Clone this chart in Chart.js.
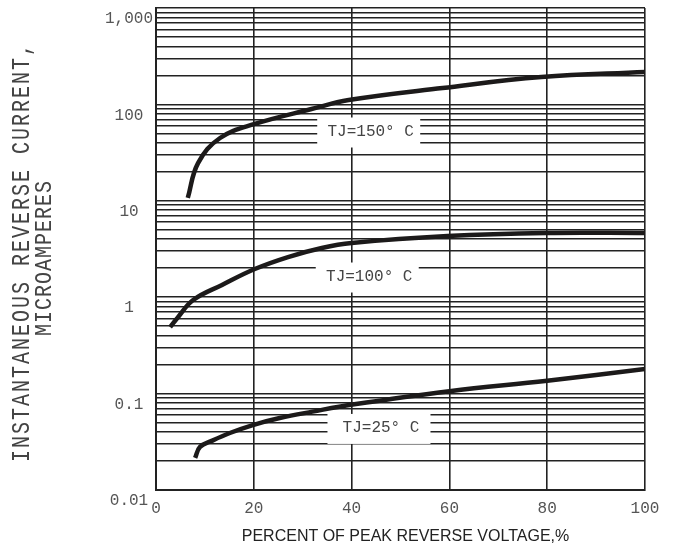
<!DOCTYPE html>
<html>
<head>
<meta charset="utf-8">
<script src="https://cdn.jsdelivr.net/npm/chart.js@4"></script>
<style>
html,body{margin:0;padding:0;background:#fff;}
#wrap{width:679px;height:550px;}
</style>
</head>
<body>
<div id="wrap"><canvas id="c" width="679" height="550"></canvas></div>
<script>
// ---- data ----
const xTicks = [0, 20, 40, 60, 80, 100];
const yTickValues = [0.01, 0.1, 1, 10, 100, 1000];
const yTickLabels = ["0.01", "0.1", "1", "10", "100", "1,000"];

const x150 = [6.5, 8.6, 13.1, 20.2, 31.8, 39.4, 58.6, 78.8, 100];
const y150 = [10.7, 24.6, 44.8, 62.7, 89.5, 111, 148, 192, 217];

const x100 = [2.9, 4.5, 7.6, 13.5, 20.2, 27.0, 33.9, 40, 59.6, 79.8, 100];
const y100 = [0.49, 0.62, 0.935, 1.34, 1.96, 2.61, 3.24, 3.65, 4.31, 4.64, 4.64];

const x25 = [8.0, 9.0, 11.5, 15.1, 19.8, 25.3, 32.0, 40.2, 60, 80, 100];
const y25 = [0.0215, 0.028, 0.0325, 0.039, 0.0472, 0.0558, 0.065, 0.077, 0.106, 0.136, 0.18];

const labelTexts = ["TJ=150\u00B0 C", "TJ=100\u00B0 C", "TJ=25\u00B0 C"];
const labelX = [43.5, 43.2, 45.6];
const labelY = [51.1, 1.60, 0.043];

const xTitle = "PERCENT OF PEAK REVERSE VOLTAGE,%";
const yTitle1 = "INSTANTANEOUS REVERSE CURRENT,";
const yTitle2 = "MICROAMPERES";

// ---- helpers ----
function pts(xs, ys) { return xs.map((x, i) => ({ x: x, y: ys[i] })); }
function lineDs(xs, ys) {
  return {
    data: pts(xs, ys),
    borderColor: '#1c1a1a',
    borderWidth: 4.5,
    pointRadius: 0,
    fill: false,
    tension: 0.4,
    borderCapStyle: 'butt'
  };
}

const labelsPlugin = {
  id: 'tjLabels',
  beforeDatasetsDraw(chart) {
    const ctx = chart.ctx;
    const xs = chart.scales.x, ys = chart.scales.y;
    ctx.save();
    ctx.font = '16px "Liberation Mono"';
    ctx.textAlign = 'center';
    ctx.textBaseline = 'middle';
    labelTexts.forEach((t, i) => {
      const px = xs.getPixelForValue(labelX[i]);
      const py = ys.getPixelForValue(labelY[i]);
      const w = 103, h = 30;
      ctx.fillStyle = '#fff';
      ctx.fillRect(px - w / 2, py - h / 2, w, h);
      ctx.fillStyle = '#444';
      ctx.fillText(t, px + 2, py - 1);
    });
    ctx.restore();
  }
};

const titlesPlugin = {
  id: 'titles',
  afterDraw(chart) {
    const ctx = chart.ctx;
    const a = chart.chartArea;
    ctx.save();
    // x title
    ctx.fillStyle = '#222';
    ctx.font = '16px "Liberation Sans"';
    ctx.textAlign = 'center';
    ctx.textBaseline = 'middle';
    ctx.fillText(xTitle, (a.left + a.right) / 2 + 5, a.bottom + 47);
    // y title
    const cy = (a.top + a.bottom) / 2;
    ctx.fillStyle = '#444';
    ctx.font = '20px "Liberation Mono"';
    ctx.save();
    ctx.translate(22, cy + 3);
    ctx.rotate(-Math.PI / 2);
    ctx.scale(1, 1.3);
    ctx.letterSpacing = '2px';
    ctx.fillText(yTitle1, 0, 0);
    ctx.restore();
    ctx.save();
    ctx.translate(45, cy + 9);
    ctx.rotate(-Math.PI / 2);
    ctx.scale(1, 1.15);
    ctx.letterSpacing = '1px';
    ctx.fillText(yTitle2, 0, 0);
    ctx.restore();
    ctx.restore();
  }
};

new Chart(document.getElementById('c'), {
  type: 'line',
  data: {
    datasets: [lineDs(x150, y150), lineDs(x100, y100), lineDs(x25, y25)]
  },
  options: {
    responsive: false,
    animation: false,
    devicePixelRatio: 1,
    layout: { padding: { top: 8, right: 34, left: 0, bottom: 0 } },
    plugins: { legend: { display: false }, tooltip: { enabled: false } },
    scales: {
      x: {
        type: 'linear',
        min: 0, max: 100,
        afterBuildTicks(scale) { scale.ticks = xTicks.map(v => ({ value: v })); },
        afterFit(scale) { scale.height = 60; scale.paddingLeft = 0; scale.paddingRight = 0; },
        grid: { color: '#222', lineWidth: 1.6, drawTicks: false },
        border: { color: '#222', width: 2 },
        ticks: {
          font: { family: 'Liberation Mono', size: 16 },
          color: '#555',
          padding: 9,
          autoSkip: false,
          maxRotation: 0,
          callback: v => String(v)
        }
      },
      y: {
        type: 'logarithmic',
        min: 0.01, max: 1000,
        afterBuildTicks(scale) {
          const t = [];
          for (let d = 0; d < yTickValues.length; d++) {
            const b = yTickValues[d];
            if (d === yTickValues.length - 1) { t.push({ value: b, major: true }); break; }
            for (let k = 1; k <= 9; k++) t.push({ value: +(b * k).toPrecision(6), major: k === 1 });
          }
          scale.ticks = t;
        },
        afterFit(scale) { scale.width = 156; scale.paddingTop = 0; scale.paddingBottom = 0; },
        grid: { color: '#222', lineWidth: 1.6, drawTicks: false },
        border: { color: '#222', width: 2 },
        ticks: {
          font: { family: 'Liberation Mono', size: 16 },
          color: '#555',
          padding: 3,
          crossAlign: 'center',
          labelOffset: 11,
          autoSkip: false,
          callback(value) {
            for (let i = 0; i < yTickValues.length; i++) {
              if (Math.abs(value - yTickValues[i]) / yTickValues[i] < 1e-6) return yTickLabels[i];
            }
            return '';
          }
        }
      }
    }
  },
  plugins: [labelsPlugin, titlesPlugin]
});
</script>
</body>
</html>
